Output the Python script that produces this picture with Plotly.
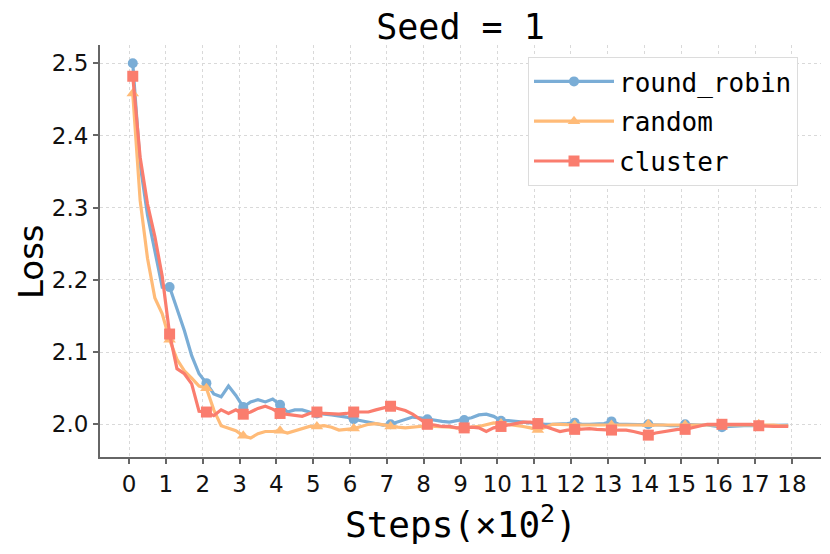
import plotly.graph_objects as go

# training steps (in units of 100 steps)
steps = [s / 100 for s in range(10, 1800, 20)]

round_robin = [
    2.500, 2.360, 2.290, 2.240, 2.190, 2.190, 2.160, 2.130, 2.095, 2.070,
    2.057, 2.042, 2.038, 2.053, 2.040, 2.024, 2.031, 2.034, 2.031, 2.035,
    2.027, 2.017, 2.020, 2.020, 2.017, 2.015, 2.014, 2.013, 2.012, 2.010,
    2.007, 2.005, 2.004, 2.001, 1.999, 2.000, 2.003, 2.007, 2.010, 2.009,
    2.007, 2.005, 2.004, 2.003, 2.005, 2.006, 2.009, 2.013, 2.014, 2.011,
    2.005, 2.005, 2.004, 2.002, 2.001, 2.001, 2.000, 2.000, 2.000, 2.001,
    2.002, 2.000, 2.000, 2.001, 2.001, 2.004, 2.000, 2.000, 2.000, 2.000,
    2.000, 1.999, 1.999, 1.998, 1.998, 2.000, 1.999, 1.999, 1.999, 1.998,
    1.996, 1.997, 1.998, 1.998, 1.998, 1.998, 1.998, 1.998, 1.999, 1.999,
]

random_ = [
    2.458, 2.310, 2.230, 2.175, 2.153, 2.117, 2.090, 2.074, 2.064, 2.053,
    2.050, 2.020, 1.998, 1.994, 1.991, 1.984, 1.981, 1.987, 1.990, 1.990,
    1.991, 1.988, 1.991, 1.993, 1.997, 1.997, 1.998, 1.996, 1.992, 1.993,
    1.994, 1.997, 2.000, 2.001, 1.999, 1.997, 1.996, 1.995, 1.996, 1.998,
    1.998, 1.997, 1.997, 1.996, 1.995, 1.995, 1.996, 1.997, 2.000, 2.002,
    2.001, 2.000, 1.998, 1.997, 1.995, 1.992, 1.996, 2.000, 2.000, 1.999,
    1.999, 1.999, 1.999, 1.999, 1.999, 1.999, 1.999, 1.999, 2.000, 2.000,
    2.000, 1.999, 1.999, 1.999, 1.999, 1.999, 1.999, 1.999, 2.000, 2.000,
    2.000, 2.000, 2.000, 2.000, 2.000, 2.000, 1.999, 1.999, 1.998, 1.998,
]

cluster = [
    2.482, 2.370, 2.305, 2.260, 2.205, 2.125, 2.077, 2.070, 2.056, 2.018,
    2.017, 2.012, 2.020, 2.015, 2.020, 2.014, 2.017, 2.022, 2.025, 2.021,
    2.015, 2.014, 2.013, 2.011, 2.015, 2.017, 2.015, 2.014, 2.014, 2.015,
    2.017, 2.017, 2.017, 2.020, 2.023, 2.025, 2.022, 2.019, 2.014, 2.007,
    2.000, 1.999, 1.997, 1.997, 1.995, 1.995, 1.996, 1.995, 1.990, 1.995,
    1.997, 2.000, 2.002, 2.003, 2.003, 2.001, 1.997, 1.993, 1.990, 1.992,
    1.993, 1.994, 1.994, 1.993, 1.992, 1.992, 1.992, 1.992, 1.990, 1.988,
    1.985, 1.988, 1.990, 1.992, 1.993, 1.993, 1.995, 1.998, 2.000, 2.000,
    2.000, 2.001, 2.001, 2.001, 2.000, 1.998, 1.997, 1.997, 1.997, 1.997,
]

series_names = ["round_robin", "random", "cluster"]
series_values = [round_robin, random_, cluster]
colors = ["#7aadd6", "#ffbb78", "#fa7d6e"]
symbols = ["circle", "triangle-up", "square"]
marker_sizes = [10, 11, 11]
x_ticks = list(range(0, 19))
y_ticks = [2.0, 2.1, 2.2, 2.3, 2.4, 2.5]
MARK_EVERY = 5

fig = go.Figure()
for name, vals, col, sym, ms in zip(series_names, series_values, colors, symbols, marker_sizes):
    fig.add_trace(go.Scatter(
        x=steps, y=vals, mode="lines", showlegend=False, legendgroup=name,
        line=dict(color=col, width=3.2), hoverinfo="skip",
    ))
    mx, my = [], []
    for i in range(0, len(steps), MARK_EVERY):
        mx += [steps[i], steps[i]]
        my += [vals[i], None]
    fig.add_trace(go.Scatter(
        x=mx, y=my, mode="lines+markers", name=name, connectgaps=False,
        legendgroup=name,
        line=dict(color=col, width=3.2),
        marker=dict(symbol=sym, size=ms, color=col),
    ))

mono = "DejaVu Sans Mono"
sans = "DejaVu Sans"

# page body adds an 8px offset; margins compensate so the plot area sits at
# x 100..821, y 45..457 in the window
OFF = 8
fig.update_layout(
    width=830, height=554,
    margin=dict(l=100 - OFF, r=9 + OFF, t=45 - OFF, b=97 + OFF),
    paper_bgcolor="white", plot_bgcolor="white",
    title=dict(text="Seed = 1", font=dict(family=mono, size=35, color="black"),
               xref="paper", x=0.5, xanchor="center",
               yref="container", y=1 - (27 - OFF) / 554, yanchor="middle"),
    xaxis=dict(range=[-0.79, 18.79], tickvals=x_ticks, ticktext=[str(t) for t in x_ticks],
               showline=True, linecolor="#666", linewidth=2,
               ticks="outside", ticklen=5, tickcolor="#666", tickwidth=1.5,
               showgrid=True, gridcolor="#d9d9d9", griddash="dot", gridwidth=1,
               zeroline=False, tickfont=dict(family=sans, size=23, color="#111")),
    yaxis=dict(range=[1.9547, 2.5253], tickvals=y_ticks, ticktext=[f"{v:.1f}" for v in y_ticks],
               showline=True, linecolor="#666", linewidth=2,
               ticks="outside", ticklen=5, tickcolor="#666", tickwidth=1.5,
               showgrid=True, gridcolor="#d9d9d9", griddash="dot", gridwidth=1,
               zeroline=False, tickfont=dict(family=sans, size=23, color="#111")),
    legend=dict(x=(528 - 100) / 721, y=(457 - 57) / 412, xanchor="left", yanchor="top",
                font=dict(family=mono, size=26, color="black"),
                bgcolor="white", bordercolor="#dcdcdc", borderwidth=1,
                itemwidth=80, tracegroupgap=3, traceorder="grouped"),
    annotations=[
        dict(text="Steps(×10<sup>2</sup>)", xref="paper", yref="paper",
             x=0.5, y=(457 - 522) / 412, xanchor="center", yanchor="middle",
             showarrow=False, font=dict(family=mono, size=36, color="black")),
        dict(text="Loss", xref="paper", yref="paper",
             x=(31 - 100) / 721, y=(457 - 262) / 412, xanchor="center", yanchor="middle",
             textangle=-90, showarrow=False, font=dict(family=sans, size=34, color="black")),
    ],
)

fig.write_html("out.html")
